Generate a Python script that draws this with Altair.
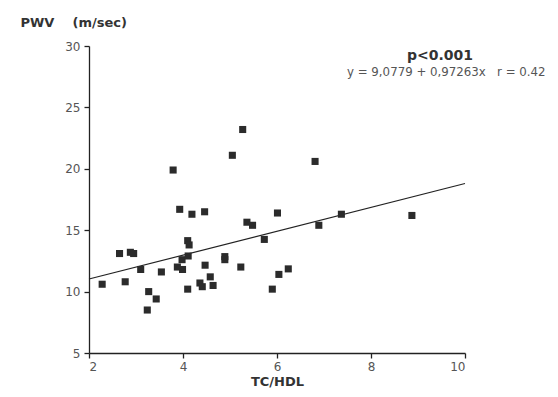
import altair as alt
import pandas as pd

tc_hdl = [2.28, 2.65, 2.77, 2.88, 2.95, 3.10, 3.24, 3.27, 3.43, 3.54,
          3.79, 3.88, 3.93, 3.98, 3.99, 4.10, 4.13, 4.11, 4.10, 4.19,
          4.36, 4.41, 4.46, 4.47, 4.58, 4.64, 4.89, 4.89, 5.05, 5.23,
          5.27, 5.36, 5.48, 5.73, 5.90, 6.01, 6.04, 6.24, 6.81, 6.89,
          7.37, 8.87]
pwv = [10.6, 13.1, 10.8, 13.2, 13.1, 11.8, 8.5, 10.0, 9.4, 11.6,
       19.9, 12.0, 16.7, 12.6, 11.8, 14.15, 13.8, 12.9, 10.2, 16.3,
       10.7, 10.4, 16.5, 12.15, 11.2, 10.5, 12.85, 12.6, 21.1, 12.0,
       23.2, 15.65, 15.4, 14.25, 10.2, 16.4, 11.4, 11.85, 20.6, 15.4,
       16.3, 16.2]

intercept = 9.0779
slope = 0.97263
fit_x = [2, 10]
fit_y = [intercept + slope * v for v in fit_x]

FONT = "DejaVu Sans"

pts = pd.DataFrame({"x": tc_hdl, "y": pwv})
fit = pd.DataFrame({"x": fit_x, "y": fit_y})

xscale = alt.Scale(domain=[2, 10], nice=False, zero=False)
yscale = alt.Scale(domain=[5, 30], nice=False, zero=False)

xaxis = alt.Axis(values=[2, 4, 6, 8, 10], grid=False, title="TC/HDL",
                 titleFont=FONT, titleFontSize=13, titleFontWeight="bold",
                 titleColor="#333", titlePadding=3,
                 labelFont=FONT, labelFontSize=12, labelColor="#555",
                 domainColor="#222", tickColor="#222", tickSize=5,
                 domainWidth=1.3, tickWidth=1.3, labelPadding=3)
yaxis = alt.Axis(values=[5, 10, 15, 20, 25, 30], grid=False,
                 title="PWV\u00a0\u00a0\u00a0\u00a0(m/sec)",
                 titleFont=FONT, titleFontSize=13, titleFontWeight="bold",
                 titleColor="#333", titleAngle=0, titleAlign="left",
                 titleBaseline="middle", titleX=-69, titleY=-24,
                 labelFont=FONT, labelFontSize=12, labelColor="#555",
                 domainColor="#222", tickColor="#222", tickSize=5,
                 domainWidth=1.3, tickWidth=1.3, labelPadding=4)

points = alt.Chart(pts).mark_square(size=50, color="#2b2b2b", opacity=1).encode(
    x=alt.X("x:Q", scale=xscale, axis=xaxis),
    y=alt.Y("y:Q", scale=yscale, axis=yaxis),
)

line = alt.Chart(fit).mark_line(color="#222", strokeWidth=1.2).encode(
    x=alt.X("x:Q", scale=xscale),
    y=alt.Y("y:Q", scale=yscale),
)

ptext = alt.Chart(pd.DataFrame({"t": ["p<0.001"]})).mark_text(
    font=FONT, fontSize=14, fontWeight="bold", color="#333", align="center",
    baseline="middle").encode(text="t:N", x=alt.value(351), y=alt.value(10))

eqtext = alt.Chart(pd.DataFrame({"t": ["y = 9,0779 + 0,97263x\u00a0\u00a0\u00a0r = 0.42"]})).mark_text(
    font=FONT, fontSize=11.8, color="#555", align="left",
    baseline="middle").encode(text="t:N", x=alt.value(258), y=alt.value(26))

chart = alt.layer(line, points, ptext, eqtext).properties(
    width=376, height=307,
    autosize=alt.AutoSizeParams(type="none"),
    padding={"left": 81, "top": 38, "right": 84, "bottom": 35},
).configure_view(stroke=None)

chart.save("out.html", embed_options={"renderer": "svg", "actions": False})
